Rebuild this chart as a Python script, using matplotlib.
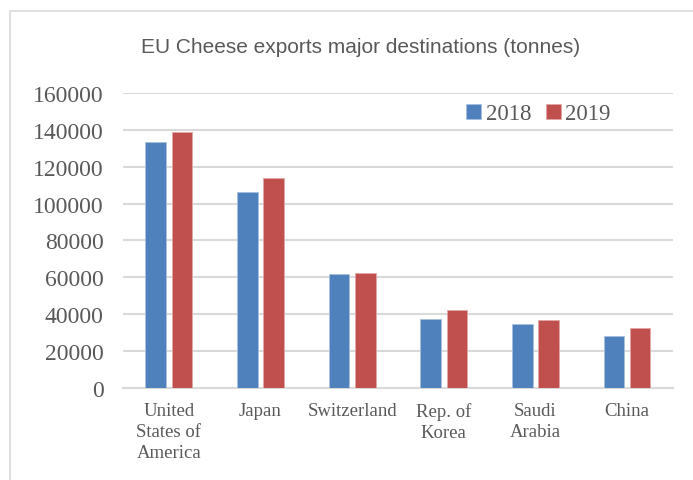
import matplotlib
matplotlib.use("Agg")
import matplotlib.pyplot as plt
import numpy as np
from matplotlib.patches import Rectangle

# EU cheese exports by destination, tonnes
countries = ["United\nStates of\nAmerica", "Japan", "Switzerland",
             "Rep. of\nKorea", "Saudi\nArabia", "China"]
exports_2018 = [133500, 106300, 61800, 37400, 34700, 28000]
exports_2019 = [138800, 113900, 62400, 42300, 36700, 32500]
yticks = [0, 20000, 40000, 60000, 80000, 100000, 120000, 140000, 160000]

blue = "#4f81bd"
red = "#c0504d"
grey_text = "#595959"

fig = plt.figure(figsize=(6.93, 4.81), dpi=100)
# light frame of the chart area
fig.patches.append(Rectangle((10 / 693, -0.1), 1.2, 1.1 - 12 / 481,
                             transform=fig.transFigure, fill=False,
                             edgecolor="#d9d9d9", linewidth=1.2))

ax = fig.add_axes([0.1775, 0.1913, 0.7935, 0.6133])
x = np.arange(len(countries))
w = 0.225
gap = 0.03
ax.bar(x - w / 2 - gap, exports_2018, w, color=blue, edgecolor="#a7c0de",
       linewidth=0.6, label="2018", zorder=3)
ax.bar(x + w / 2 + gap, exports_2019, w, color=red, edgecolor="#dfa8a6",
       linewidth=0.6, label="2019", zorder=3)

ax.set_xlim(-0.5, len(countries) - 0.5)
ax.set_ylim(0, 160000)
ax.set_yticks(yticks)
ax.set_yticklabels([str(v) for v in yticks], fontfamily="Liberation Serif",
                   fontsize=17, color=grey_text)
ax.set_xticks(x)
ax.set_xticklabels(countries, fontfamily="Liberation Serif", fontsize=13.5,
                   color=grey_text, linespacing=1.3, va="top")
ax.tick_params(axis="both", length=0)
ax.tick_params(axis="y", pad=14)
ax.tick_params(axis="x", pad=10)
ax.grid(axis="y", color="#d9d9d9", linewidth=1.5, zorder=0)
for s in ["top", "right", "left"]:
    ax.spines[s].set_visible(False)
ax.spines["bottom"].set_color("#d9d9d9")
ax.spines["bottom"].set_linewidth(1.5)

fig.text(0.52, 0.902, "EU Cheese exports major destinations (tonnes)",
         ha="center", va="center", fontfamily="Liberation Sans", fontsize=15,
         color=grey_text)

leg = ax.legend(loc="center", bbox_to_anchor=(0.777, 0.761),
                bbox_transform=fig.transFigure, ncol=2, frameon=False,
                prop={"family": "Liberation Serif", "size": 16.5},
                handlelength=0.65, handleheight=0.65, handletextpad=0.2,
                columnspacing=0.65)
for t in leg.get_texts():
    t.set_color(grey_text)

fig.savefig("out.png", dpi=100)
